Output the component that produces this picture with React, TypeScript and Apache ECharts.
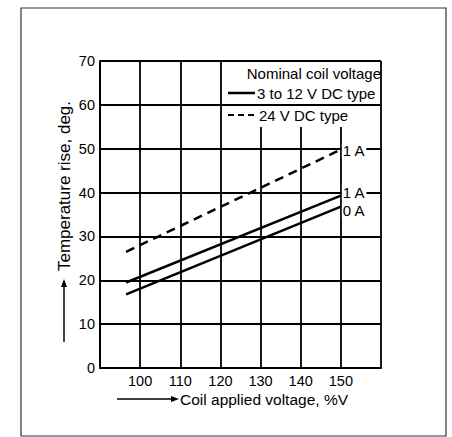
import React, { useEffect, useRef } from "react";
import * as echarts from "echarts";

const coilVoltage = [96.5, 150];
const rise12V1A = [19.5, 39.3];
const rise12V0A = [16.8, 36.8];
const rise24V1A = [26.5, 49.8];

const yTicks = [0, 10, 20, 30, 40, 50, 60, 70];
const xTickLabels = [100, 110, 120, 130, 140, 150];

const legendTitle = "Nominal coil voltage";
const legendSolid = "3 to 12 V DC type";
const legendDashed = "24 V DC type";
const xTitle = "Coil applied voltage, %V";
const yTitle = "Temperature rise, deg.";

const FONT = "'Liberation Sans', Arial, sans-serif";

function pairs(xs: number[], ys: number[]) {
  return xs.map((x, i) => [x, ys[i]]);
}

export default function App() {
  const ref = useRef<HTMLDivElement>(null);
  useEffect(() => {
    if (!ref.current) return;
    const chart = echarts.init(ref.current, null, { renderer: "svg" });
    const lineStyleBase = { color: "#000", width: 2.5 };
    const endLab = (text: string, dy: number) => ({
      show: true,
      formatter: text,
      color: "#000",
      fontFamily: FONT,
      fontSize: 15,
      distance: 1,
      offset: [0, dy],
      backgroundColor: "#fff",
      padding: [0, 1],
    });
    chart.setOption({
      animation: false,
      backgroundColor: "#fff",
      grid: { left: 100, top: 61, right: 71, bottom: 69, show: false },
      xAxis: {
        type: "value",
        z: 1,
        min: 90,
        max: 160,
        interval: 10,
        axisLine: { show: true, lineStyle: { color: "#000", width: 2 } },
        axisTick: { show: false },
        splitLine: { show: true, lineStyle: { color: "#000", width: 1.8 } },
        axisLabel: {
          color: "#000",
          fontFamily: FONT,
          fontSize: 14.5,
          margin: 5,
          formatter: (v: number) => (xTickLabels.includes(v) ? String(v) : ""),
        },
      },
      yAxis: {
        type: "value",
        z: 3,
        min: 0,
        max: 70,
        interval: 10,
        axisLine: { show: true, lineStyle: { color: "#000", width: 2 } },
        axisTick: { show: false },
        splitLine: { show: true, lineStyle: { color: "#000", width: 1.8 } },
        axisLabel: {
          color: "#000",
          fontFamily: FONT,
          fontSize: 14.5,
          margin: 5,
          formatter: (v: number) => (yTicks.includes(v) ? String(v) : ""),
        },
      },
      series: [
        {
          type: "line",
          name: "24V 1A",
          data: pairs(coilVoltage, rise24V1A),
          symbol: "none",
          lineStyle: { ...lineStyleBase, type: [9, 6] },
          endLabel: endLab("1 A", 1),
          z: 5,
        },
        {
          type: "line",
          name: "12V 1A",
          data: pairs(coilVoltage, rise12V1A),
          symbol: "none",
          lineStyle: { ...lineStyleBase },
          endLabel: endLab("1 A", -3),
          z: 5,
        },
        {
          type: "line",
          name: "12V 0A",
          data: pairs(coilVoltage, rise12V0A),
          symbol: "none",
          lineStyle: { ...lineStyleBase },
          endLabel: endLab("0 A", 4),
          z: 5,
        },
      ],
      graphic: [
        {
          type: "rect",
          z: 0,
          shape: { x: 21, y: 8, width: 425, height: 428 },
          style: { fill: "none", stroke: "#333", lineWidth: 1.2 },
        },
        {
          type: "rect",
          z: 2,
          shape: { x: 226, y: 62, width: 154, height: 65 },
          style: { fill: "#fff" },
        },
        {
          type: "text",
          z: 101,
          x: 381,
          y: 73,
          style: { text: legendTitle, align: "right", verticalAlign: "middle", fill: "#000", font: `15px ${FONT}` },
        },
        {
          type: "line",
          z: 101,
          shape: { x1: 228, y1: 93, x2: 255, y2: 93 },
          style: { stroke: "#000", lineWidth: 2.5 },
        },
        {
          type: "text",
          z: 101,
          x: 257,
          y: 93,
          style: { text: legendSolid, align: "left", verticalAlign: "middle", fill: "#000", font: `15px ${FONT}` },
        },
        {
          type: "line",
          z: 101,
          shape: { x1: 228, y1: 115, x2: 255, y2: 115 },
          style: { stroke: "#000", lineWidth: 2, lineDash: [6, 4] },
        },
        {
          type: "text",
          z: 101,
          x: 259,
          y: 115,
          style: { text: legendDashed, align: "left", verticalAlign: "middle", fill: "#000", font: `15px ${FONT}` },
        },
        {
          type: "line",
          z: 101,
          shape: { x1: 117, y1: 399, x2: 174, y2: 399 },
          style: { stroke: "#000", lineWidth: 1.5 },
        },
        {
          type: "polygon",
          z: 101,
          shape: { points: [[179, 399], [171, 396], [171, 402]] },
          style: { fill: "#000" },
        },
        {
          type: "text",
          z: 101,
          x: 180,
          y: 399,
          style: { text: xTitle, align: "left", verticalAlign: "middle", fill: "#000", font: `15.5px ${FONT}` },
        },
        {
          type: "line",
          z: 101,
          shape: { x1: 64, y1: 342, x2: 64, y2: 285 },
          style: { stroke: "#000", lineWidth: 1.5 },
        },
        {
          type: "polygon",
          z: 101,
          shape: { points: [[64, 279], [61, 287], [67, 287]] },
          style: { fill: "#000" },
        },
        {
          type: "text",
          z: 101,
          x: 64,
          y: 186,
          rotation: Math.PI / 2,
          style: { text: yTitle, align: "center", verticalAlign: "middle", fill: "#000", font: `17px ${FONT}` },
        },
      ],
    });
    return () => chart.dispose();
  }, []);
  return (
    <div
      ref={ref}
      style={{ position: "fixed", left: 0, top: 0, width: 452, height: 437 }}
    />
  );
}
